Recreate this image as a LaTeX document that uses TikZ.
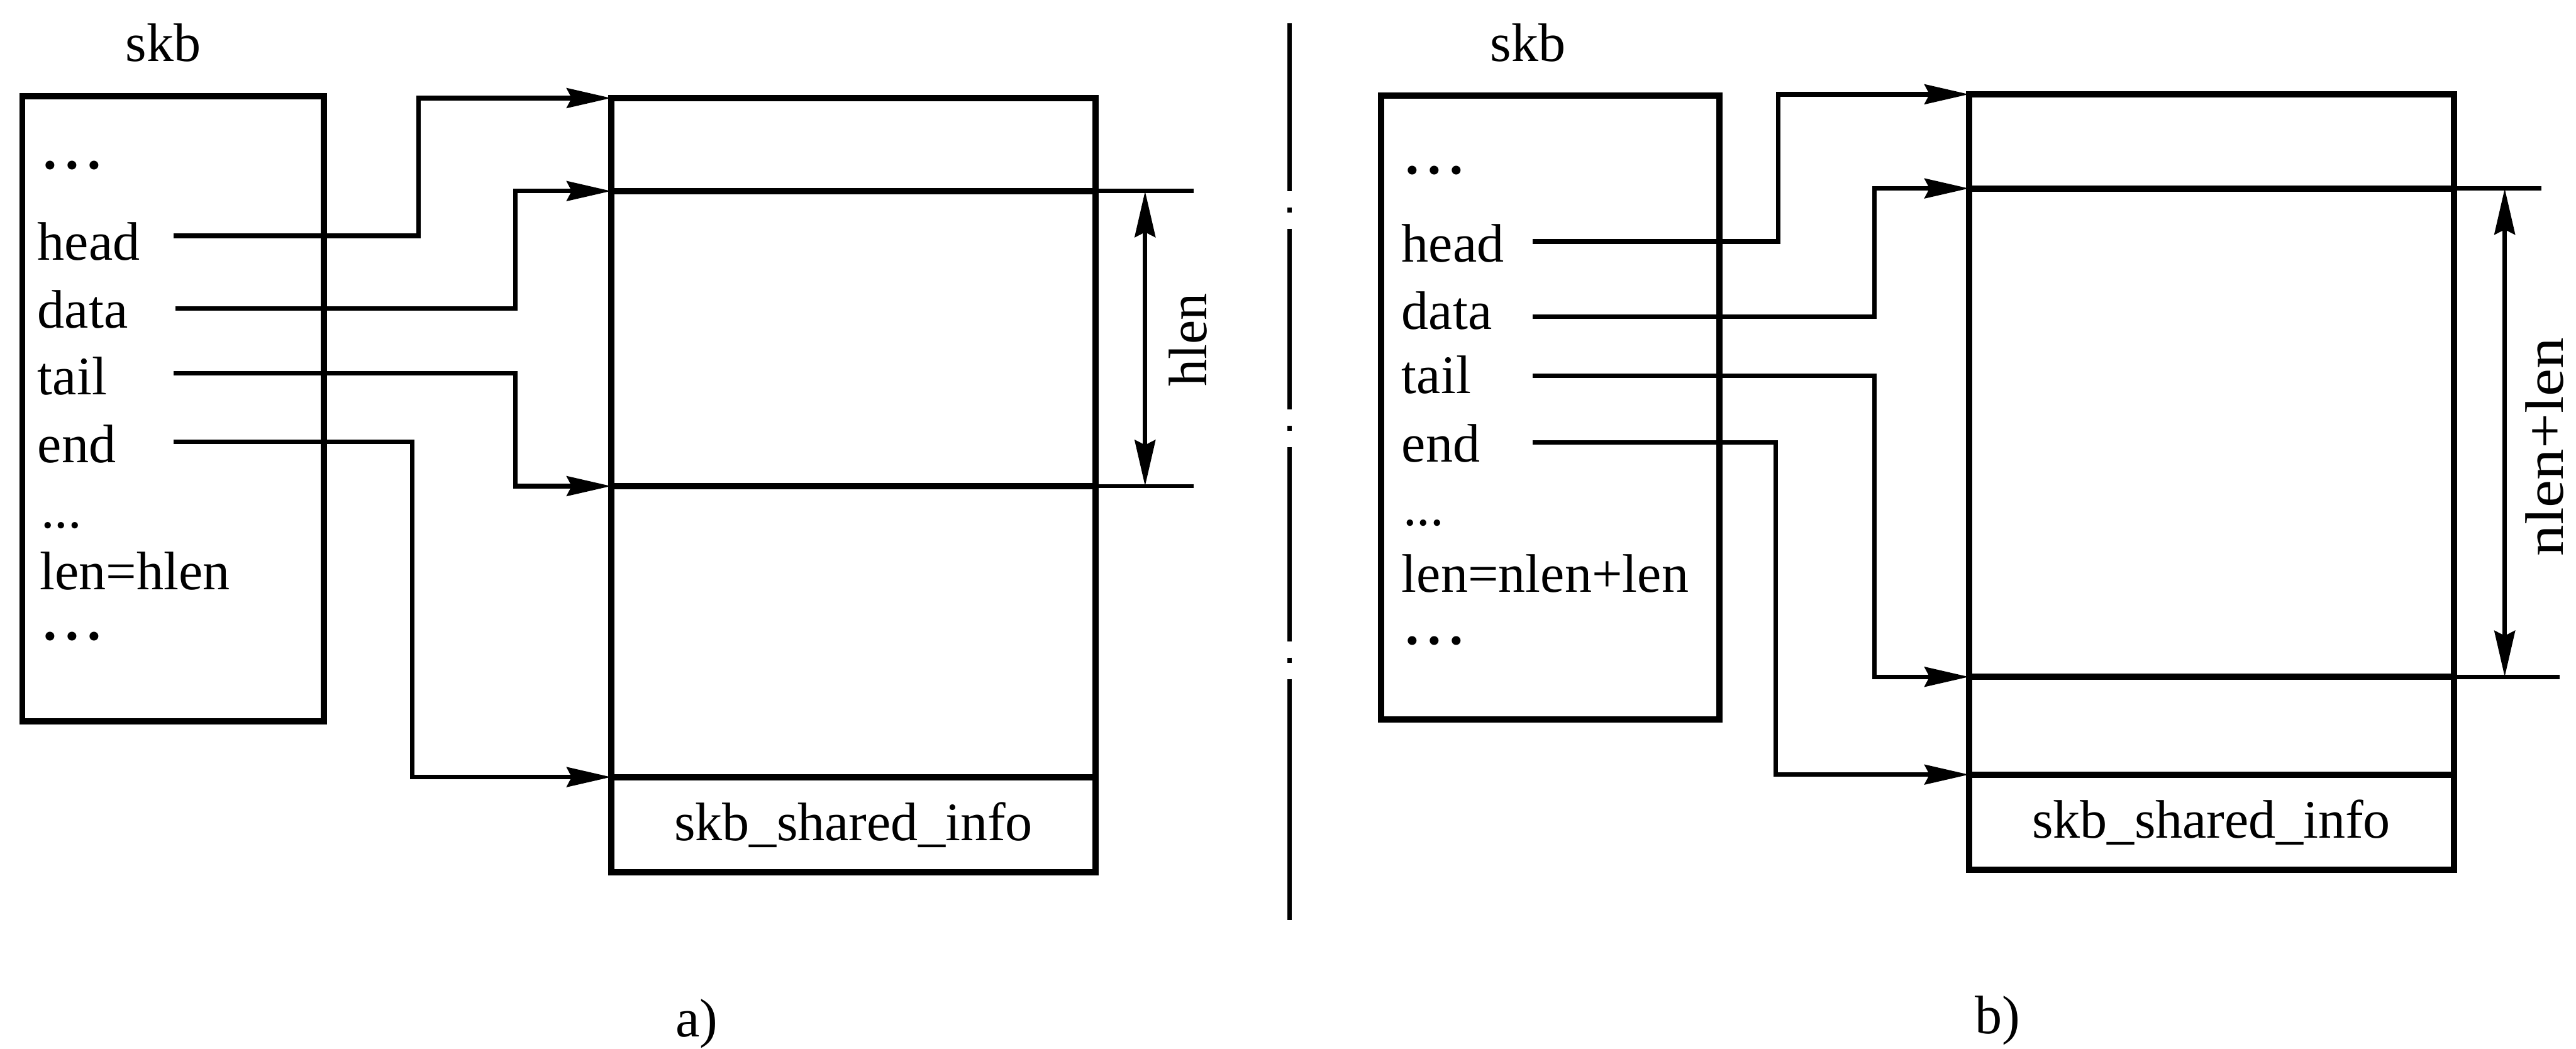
\documentclass[tikz,border=0pt]{standalone}
\usepackage{fontspec}
\setmainfont{Liberation Serif}
\usetikzlibrary{arrows.meta}
\begin{document}
\begin{tikzpicture}[x=1pt,y=-1pt,
  lbl/.style={font=\fontsize{33}{40}\selectfont, inner sep=0pt},
  boxnode/.style={draw, line width=3.8pt, inner sep=0pt, outer sep=0pt},
  inner/.style={line width=3.8pt},
  conn/.style={line width=2.8pt, -{Stealth[length=27pt,width=12pt,inset=3pt]}},
  ext/.style={line width=2.6pt},
  dimline/.style={line width=2.8pt, {Stealth[length=28pt,width=12.5pt,inset=3pt]}-{Stealth[length=28pt,width=12.5pt,inset=3pt]}},
  divider/.style={line width=2.8pt, dash pattern=on 102pt off 10pt on 3pt off 10pt on 110pt off 10pt on 3pt off 10pt on 118pt off 10pt on 3pt off 10pt on 200pt off 10pt}
]
\useasboundingbox (0,0) rectangle (1568,638.4);

% ---------------- panel a ----------------
\node[lbl, anchor=base] (askb) at (99.4,37.5) {skb};
\node[boxnode, minimum width=183.4pt, minimum height=380.4pt] (astruct) at (105.3,248.8) {};
\node[lbl, anchor=base west] (adots1) at (24.7,111.6) {\textbf{·\kern2.5pt·\kern2.5pt·}};
\node[lbl, anchor=base west] (ahead) at (22.7,158.3) {head};
\node[lbl, anchor=base west] (adata) at (22.7,199.7) {data};
\node[lbl, anchor=base west] (atail) at (22.7,240.2) {tail};
\node[lbl, anchor=base west] (aend) at (22.7,281.4) {end};
\node[lbl, anchor=base west] (adots2) at (24.7,321.4) {...};
\node[lbl, anchor=base west] (alen) at (24,358.9) {len=hlen};
\node[lbl, anchor=base west] (adots3) at (24.7,398.4) {\textbf{·\kern2.5pt·\kern2.5pt·}};

\node[boxnode, minimum width=295pt, minimum height=471.3pt] (abuf) at (519.5,295.35) {};
\coordinate (aL1) at (372,59.7);
\coordinate (aL2) at (372,116.3);
\coordinate (aL3) at (372,295.9);
\coordinate (aL4) at (372,473);
\coordinate (aR2) at (667,116.3);
\coordinate (aR3) at (667,295.9);
\coordinate (aR4) at (667,473);
\coordinate (aE2) at (726.5,116.3);
\coordinate (aE3) at (726.5,295.9);
\draw[inner] (aL2) -- (aR2);
\draw[inner] (aL3) -- (aR3);
\draw[inner] (aL4) -- (aR4);
\draw[ext] (aR2) -- (aE2);
\draw[ext] (aR3) -- (aE3);
\coordinate (aD2) at (697,116.3);
\coordinate (aD3) at (697,295.9);
\draw[dimline] (aD2) -- (aD3);
\node[lbl, rotate=90] (ahlen) at (723,207) {hlen};
\node[lbl] (ashared) at (519.5,502) {skb\_shared\_info};

\coordinate (ahs) at (105.8,143.5);
\coordinate (ahb) at (254.7,59.7);
\coordinate (ads) at (106.8,187.7);
\coordinate (adb) at (313.6,116.3);
\coordinate (ats) at (105.8,227.3);
\coordinate (atb) at (313.6,295.9);
\coordinate (aes) at (105.8,268.8);
\coordinate (aeb) at (251,473);
\draw[conn] (ahs) -| (ahb) -- (aL1);
\draw[conn] (ads) -| (adb) -- (aL2);
\draw[conn] (ats) -| (atb) -- (aL3);
\draw[conn] (aes) -| (aeb) -- (aL4);

\node[lbl, anchor=base] (acap) at (424,631) {a)};

% ---------------- divider ----------------
\coordinate (dtop) at (785,14.3);
\coordinate (dbot) at (785,560);
\draw[divider] (dtop) -- (dbot);

% ---------------- panel b ----------------
\node[lbl, anchor=base] (bskb) at (930,37.5) {skb};
\node[boxnode, minimum width=205.9pt, minimum height=379.8pt] (bstruct) at (943.55,248.1) {};
\node[lbl, anchor=base west] (bdots1) at (854,114.7) {\textbf{·\kern2.5pt·\kern2.5pt·}};
\node[lbl, anchor=base west] (bhead) at (853,159.6) {head};
\node[lbl, anchor=base west] (bdata) at (853,200.3) {data};
\node[lbl, anchor=base west] (btail) at (853,239.4) {tail};
\node[lbl, anchor=base west] (bend) at (853,281) {end};
\node[lbl, anchor=base west] (bdots2) at (854,320) {...};
\node[lbl, anchor=base west] (blen) at (853,360.4) {len=nlen+len};
\node[lbl, anchor=base west] (bdots3) at (854,401) {\textbf{·\kern2.5pt·\kern2.5pt·}};

\node[boxnode, minimum width=295.1pt, minimum height=472.2pt] (bbuf) at (1346.05,293.5) {};
\coordinate (bL1) at (1198.5,57.4);
\coordinate (bL2) at (1198.5,114.7);
\coordinate (bL3) at (1198.5,412);
\coordinate (bL4) at (1198.5,471.5);
\coordinate (bR2) at (1493.6,114.7);
\coordinate (bR3) at (1493.6,412);
\coordinate (bR4) at (1493.6,471.5);
\coordinate (bE2) at (1547,114.7);
\coordinate (bE3) at (1558,412);
\draw[inner] (bL2) -- (bR2);
\draw[inner] (bL3) -- (bR3);
\draw[inner] (bL4) -- (bR4);
\draw[ext] (bR2) -- (bE2);
\draw[ext] (bR3) -- (bE3);
\coordinate (bD2) at (1524.6,114.7);
\coordinate (bD3) at (1524.6,412);
\draw[dimline] (bD2) -- (bD3);
\node[lbl, rotate=90, xscale=1.15] (bnlen) at (1549,272) {nlen+len};
\node[lbl] (bshared) at (1346,500.5) {skb\_shared\_info};

\coordinate (bhs) at (933,147);
\coordinate (bhb) at (1082.5,57.4);
\coordinate (bds) at (933,192.8);
\coordinate (bdb) at (1141,114.7);
\coordinate (bts) at (933,228.7);
\coordinate (btb) at (1141,412);
\coordinate (bes) at (933,269.2);
\coordinate (beb) at (1080.8,471.5);
\draw[conn] (bhs) -| (bhb) -- (bL1);
\draw[conn] (bds) -| (bdb) -- (bL2);
\draw[conn] (bts) -| (btb) -- (bL3);
\draw[conn] (bes) -| (beb) -- (bL4);

\node[lbl, anchor=base] (bcap) at (1216,629) {b)};
\end{tikzpicture}
\end{document}
